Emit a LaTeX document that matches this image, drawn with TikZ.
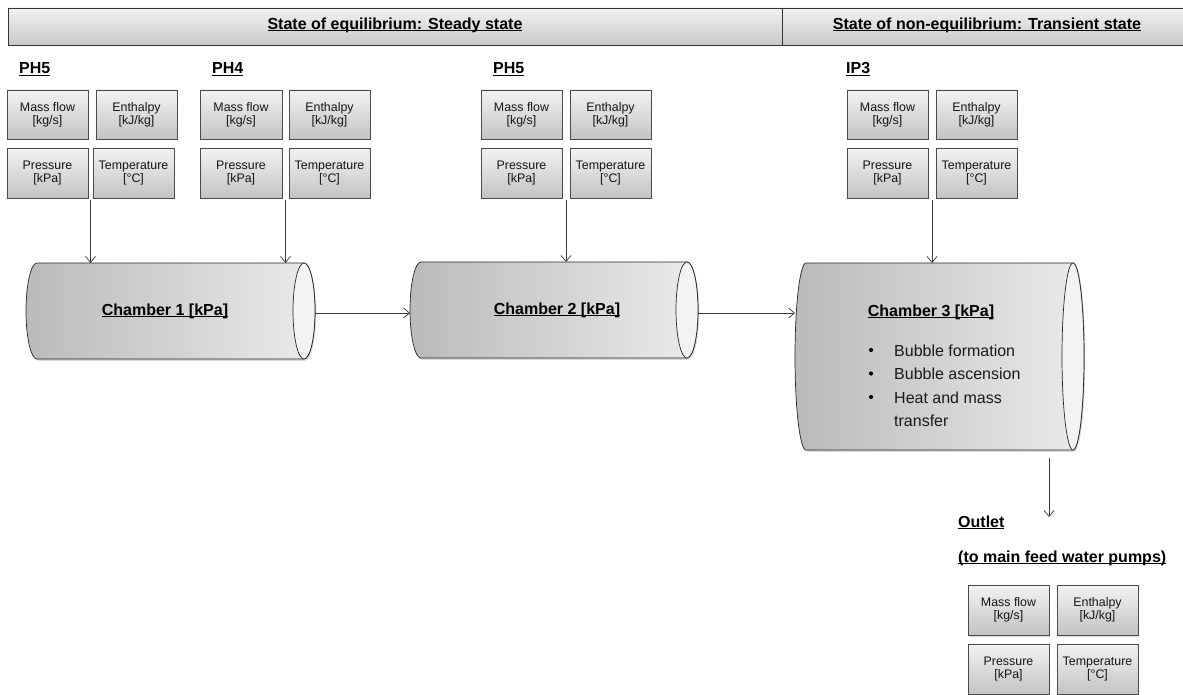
\documentclass[tikz,border=0pt]{standalone}
\usepackage{fontspec}
\setmainfont{Liberation Sans}
\usetikzlibrary{arrows.meta,shadows,fit,calc}
\definecolor{bxTop}{HTML}{F3F3F3}
\definecolor{bxBot}{HTML}{C3C3C3}
\definecolor{bxLine}{HTML}{4A4A4A}
\definecolor{hdTop}{HTML}{F2F2F2}
\definecolor{hdBot}{HTML}{C8C8C8}
\definecolor{cyL}{HTML}{BABABA}
\definecolor{cyR}{HTML}{EBEBEB}
\definecolor{cyEnd}{HTML}{F3F3F3}
\definecolor{arCol}{HTML}{3A3A3A}
\newcommand\myul[1]{\setbox0=\hbox{#1}\leavevmode\rlap{\rule[-1.9pt]{\wd0}{1.1pt}}\box0}
\newcommand\mybox[6]{%
  \pgfmathsetmacro\bxW{#4-#2}%
  \pgfmathsetmacro\bxH{#5-#3}%
  \node[pbox, minimum width=\bxW pt, minimum height=\bxH pt] (#1) at ({(#2+#4)/2},{(#3+#5)/2}) {#6};}
\newcommand\mycyl[6]{%
  \pgfmathsetmacro\cyC{(#4+#5)/2}%
  \pgfmathsetmacro\cyRy{(#5-#4)/2}%
  \pgfmathsetmacro\cyXl{#2+#6}%
  \pgfmathsetmacro\cyXr{#3-#6}%
  \pgfmathsetmacro\cyDx{0.5523*#6}%
  \pgfmathsetmacro\cyDy{0.5523*\cyRy}%
  \node[fit={(#2,#4) (#3,#5)}, inner sep=0pt, outer sep=0pt, draw=none] (#1) {};
  \path[cylbody] (\cyXl,#4) -- (\cyXr,#4)
    .. controls (\cyXr+\cyDx,#4) and (#3,\cyC-\cyDy) .. (#3,\cyC)
    .. controls (#3,\cyC+\cyDy) and (\cyXr+\cyDx,#5) .. (\cyXr,#5)
    -- (\cyXl,#5)
    .. controls (\cyXl-\cyDx,#5) and (#2,\cyC+\cyDy) .. (#2,\cyC)
    .. controls (#2,\cyC-\cyDy) and (\cyXl-\cyDx,#4) .. (\cyXl,#4) -- cycle;
  \draw[black!85, line width=0.7pt, fill=cyEnd] (\cyXr,\cyC) ellipse [x radius=#6, y radius=\cyRy];
}
\begin{document}
\begin{tikzpicture}[x=1pt,y=-1pt,
  pbox/.style={draw=bxLine, line width=0.7pt, top color=bxTop, bottom color=bxBot,
    inner sep=0pt, outer sep=0pt, align=center, font=\fontsize{12.4}{13.4}\selectfont, text=black!92,
    drop shadow={shadow xshift=1.2pt, shadow yshift=-1.5pt, opacity=0.3}},
  hbox/.style={draw=black!80, line width=0.8pt, top color=hdTop, bottom color=hdBot, inner sep=0pt},
  cylbody/.style={draw=black!85, line width=0.7pt, left color=cyL, right color=cyR,
    drop shadow={shadow xshift=1.2pt, shadow yshift=-1.8pt, opacity=0.3}},
  head/.style={font=\fontsize{16}{19}\selectfont\bfseries, inner sep=0pt, text=black},
  btext/.style={font=\fontsize{16}{19}\selectfont, inner sep=0pt, anchor=base west, text=black!90},
  bdot/.style={circle, fill=black, inner sep=0pt, minimum size=4.2pt},
  arr/.style={draw=arCol, line width=0.7pt, -{Straight Barb[length=6pt, width=10pt, line width=0.7pt]}}]
\path[use as bounding box, clip] (0,0) rectangle (1183,695);

% header
\node[hbox, fit={(8,8) (782,45)}] (h1) {};
\node[hbox, fit={(782,8) (1191,45)}] (h2) {};
\node[head, anchor=base] (t1) at (395,29.5) {\myul{State of equilibrium: Steady state}};
\node[head, anchor=base] (t2) at (987,29.5) {\myul{State of non-equilibrium: Transient state}};

% group labels
\node[head, anchor=base west] (gA) at (19,74) {\myul{PH5}};
\node[head, anchor=base west] (gB) at (212,74) {\myul{PH4}};
\node[head, anchor=base west] (gC) at (493,74) {\myul{PH5}};
\node[head, anchor=base west] (gD) at (846,74) {\myul{IP3}};

% group A
\mybox{mA}{7}{90}{88}{139}{Mass flow\\{[kg/s]}}
\mybox{eA}{96}{90}{177}{139}{Enthalpy\\{[kJ/kg]}}
\mybox{pA}{7}{148}{88}{198}{Pressure\\{[kPa]}}
\mybox{tA}{93}{148}{174}{198}{Temperature\\{[°C]}}
% group B
\mybox{mB}{200}{90}{282}{139}{Mass flow\\{[kg/s]}}
\mybox{eB}{289}{90}{370}{139}{Enthalpy\\{[kJ/kg]}}
\mybox{pB}{200}{148}{282}{198}{Pressure\\{[kPa]}}
\mybox{tB}{289}{148}{370}{198}{Temperature\\{[°C]}}
% group C
\mybox{mC}{481}{90}{562}{139}{Mass flow\\{[kg/s]}}
\mybox{eC}{570}{90}{651}{139}{Enthalpy\\{[kJ/kg]}}
\mybox{pC}{481}{148}{562}{198}{Pressure\\{[kPa]}}
\mybox{tC}{570}{148}{651}{198}{Temperature\\{[°C]}}
% group D
\mybox{mD}{847}{90}{928}{139}{Mass flow\\{[kg/s]}}
\mybox{eD}{936}{90}{1017}{139}{Enthalpy\\{[kJ/kg]}}
\mybox{pD}{847}{148}{928}{198}{Pressure\\{[kPa]}}
\mybox{tD}{936}{148}{1017}{198}{Temperature\\{[°C]}}
% outlet group
\mybox{mE}{968}{585}{1049}{635}{Mass flow\\{[kg/s]}}
\mybox{eE}{1057}{585}{1138}{635}{Enthalpy\\{[kJ/kg]}}
\mybox{pE}{968}{644}{1049}{694}{Pressure\\{[kPa]}}
\mybox{tE}{1057}{644}{1138}{694}{Temperature\\{[°C]}}

% chambers
\mycyl{c1}{26}{315}{263}{359}{11}
\mycyl{c2}{410}{698}{262}{358}{11}
\mycyl{c3}{795}{1084}{263}{450}{11}

\node[head, anchor=base] (l1) at (165,315) {\myul{Chamber 1 [kPa]}};
\node[head, anchor=base] (l2) at (557,314) {\myul{Chamber 2 [kPa]}};
\node[head, anchor=base] (l3) at (931,316.5) {\myul{Chamber 3 [kPa]}};

\node[bdot] (d1) at (871,350) {};
\node[bdot] (d2) at (871,373.5) {};
\node[bdot] (d3) at (871,397) {};
\node[btext] (b1) at (894,356) {Bubble formation};
\node[btext] (b2) at (894,379.5) {Bubble ascension};
\node[btext] (b3) at (894,403) {Heat and mass};
\node[btext] (b4) at (894,426) {transfer};

% outlet labels
\node[head, anchor=base west] (o1) at (958,527) {\myul{Outlet}};
\node[head, anchor=base west] (o2) at (958,562.5) {\myul{(to main feed water pumps)}};

% connectors
\coordinate (aA) at ($(pA.south east)!0.5!(tA.south west)$);
\coordinate (aB) at ($(pB.south east)!0.5!(tB.south west)$);
\coordinate (aC) at ($(pC.south east)!0.5!(tC.south west)$);
\coordinate (aD) at ($(pD.south east)!0.5!(tD.south west)$);
\draw[arr] ([yshift=-2pt]aA) -- (aA |- c1.north);
\draw[arr] ([yshift=-2pt]aB) -- (aB |- c1.north);
\draw[arr] ([yshift=-2pt]aC) -- (aC |- c2.north);
\draw[arr] ([yshift=-2pt]aD) -- (aD |- c3.north);
\coordinate (k1) at ($(c1.east)+(0,2)$);
\draw[arr] (k1) -- (k1 -| c2.west);
\coordinate (k2) at ($(c2.east)+(0,3)$);
\draw[arr] (k2) -- (k2 -| c3.west);
\coordinate (out) at (1049,517);
\draw[arr] ([yshift=-8pt]c3.south -| out) -- (out);
\end{tikzpicture}
\end{document}
